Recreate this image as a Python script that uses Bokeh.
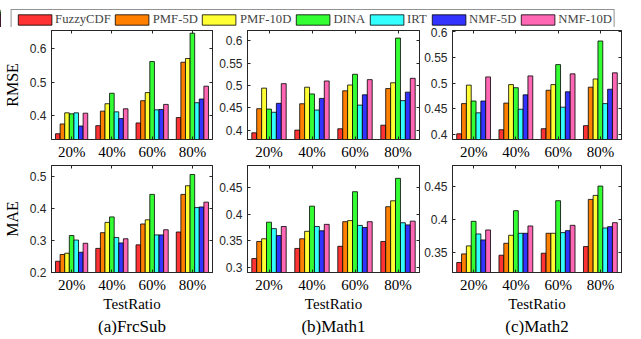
from bokeh.plotting import figure
from bokeh.models import Range1d, FixedTicker, LinearAxis, Legend, LegendItem, Title
from bokeh.layouts import column, row
from bokeh.embed import file_html
from bokeh.resources import INLINE

ratios = ["20%", "40%", "60%", "80%"]
ratio_pos = [1, 2, 3, 4]
models = ["FuzzyCDF", "PMF-5D", "PMF-10D", "DINA", "IRT", "NMF-5D", "NMF-10D"]
colors = ["#ff3333", "#ff8000", "#ffff33", "#33ff33", "#33ffff", "#3333ff", "#ff66b3"]

# each list: one model's values over ratios 20%,40%,60%,80%
rmse_frcsub = [[0.347, 0.371, 0.379, 0.395], [0.376, 0.414, 0.445, 0.559],
               [0.409, 0.436, 0.469, 0.570], [0.406, 0.467, 0.561, 0.645],
               [0.409, 0.412, 0.418, 0.439], [0.370, 0.392, 0.419, 0.450],
               [0.408, 0.421, 0.434, 0.488]]
rmse_math1 = [[0.394, 0.400, 0.403, 0.411], [0.448, 0.459, 0.488, 0.493],
              [0.494, 0.496, 0.501, 0.506], [0.447, 0.481, 0.525, 0.606],
              [0.440, 0.445, 0.456, 0.466], [0.460, 0.471, 0.479, 0.485],
              [0.504, 0.510, 0.513, 0.516]]
rmse_math2 = [[0.401, 0.409, 0.411, 0.417], [0.460, 0.461, 0.486, 0.492],
              [0.496, 0.497, 0.497, 0.508], [0.465, 0.491, 0.536, 0.582],
              [0.442, 0.449, 0.453, 0.460], [0.465, 0.477, 0.483, 0.488],
              [0.512, 0.514, 0.518, 0.520]]
mae_frcsub = [[0.235, 0.275, 0.286, 0.326], [0.256, 0.324, 0.351, 0.443],
              [0.260, 0.356, 0.364, 0.470], [0.315, 0.373, 0.443, 0.505],
              [0.301, 0.309, 0.317, 0.402], [0.263, 0.292, 0.317, 0.404],
              [0.291, 0.305, 0.333, 0.419]]
mae_math1 = [[0.317, 0.336, 0.340, 0.349], [0.349, 0.354, 0.386, 0.414],
             [0.354, 0.368, 0.388, 0.425], [0.385, 0.415, 0.442, 0.467],
             [0.373, 0.377, 0.379, 0.384], [0.360, 0.369, 0.375, 0.380],
             [0.377, 0.381, 0.386, 0.387]]
mae_math2 = [[0.335, 0.346, 0.349, 0.359], [0.348, 0.364, 0.379, 0.430],
             [0.360, 0.376, 0.379, 0.436], [0.397, 0.413, 0.428, 0.450],
             [0.378, 0.379, 0.380, 0.387], [0.369, 0.379, 0.383, 0.389],
             [0.384, 0.390, 0.391, 0.395]]

yticks_rmse_frcsub = [0.4, 0.5, 0.6]
ylabels_rmse_frcsub = ["0.4", "0.5", "0.6"]
yticks_rmse_math = [0.4, 0.45, 0.5, 0.55, 0.6]
ylabels_rmse_math = ["0.4", "0.45", "0.5", "0.55", "0.6"]
yticks_mae_frcsub = [0.2, 0.3, 0.4, 0.5]
ylabels_mae_frcsub = ["0.2", "0.3", "0.4", "0.5"]
yticks_mae_math1 = [0.3, 0.35, 0.4, 0.45]
ylabels_mae_math1 = ["0.3", "0.35", "0.4", "0.45"]
yticks_mae_math2 = [0.35, 0.4, 0.45]
ylabels_mae_math2 = ["0.35", "0.4", "0.45"]

captions = ["(a)FrcSub", "(b)Math1", "(c)Math2"]

SERIF = "Liberation Serif"
SANS = "Liberation Sans"
AX = "#262626"
BW = 0.8 / 7


def blank_axis(ticker):
    ax = LinearAxis(ticker=ticker)
    ax.major_label_text_font_size = "0px"
    ax.major_label_standoff = 0
    ax.major_tick_in = 3
    ax.major_tick_out = 0
    ax.minor_tick_line_color = None
    ax.axis_line_color = AX
    ax.major_tick_line_color = AX
    return ax


def panel(series, yr, yticks, ylabels, width, bl, br, height, bt, bb,
          ylabel=None, xlabel=None, caption=None):
    p = figure(width=width, height=height, output_backend="svg",
               toolbar_location=None, x_range=Range1d(0.5, 4.5),
               y_range=Range1d(*yr), x_axis_type=None, y_axis_type=None,
               min_border_left=bl, min_border_right=br,
               min_border_top=bt, min_border_bottom=bb)
    p.outline_line_color = AX
    p.outline_line_width = 1
    p.xgrid.visible = False
    p.ygrid.visible = False
    for i, vals in enumerate(series):
        xs = [g + (i - 3) * BW for g in ratio_pos]
        p.vbar(x=xs, top=vals, bottom=0, width=BW, fill_color=colors[i],
               line_color="black", line_width=0.8)

    yt = FixedTicker(ticks=yticks)
    xt = FixedTicker(ticks=ratio_pos)

    ly = LinearAxis(ticker=yt)
    ly.major_label_overrides = dict(zip(yticks, ylabels))
    ly.major_label_text_font = SANS
    ly.major_label_text_font_size = "12px"
    ly.major_label_text_color = AX
    ly.major_label_standoff = 5
    ly.major_tick_in = 3
    ly.major_tick_out = 0
    ly.minor_tick_line_color = None
    ly.axis_line_color = AX
    ly.major_tick_line_color = AX
    if ylabel:
        ly.axis_label = ylabel
        ly.axis_label_text_font = SERIF
        ly.axis_label_text_font_size = "16px"
        ly.axis_label_text_font_style = "normal"
        ly.axis_label_text_color = "black"
        ly.axis_label_standoff = 6
    p.add_layout(ly, "left")

    bx = LinearAxis(ticker=xt)
    bx.major_label_overrides = dict(zip(ratio_pos, ratios))
    bx.major_label_text_font = SERIF
    bx.major_label_text_font_size = "15px"
    bx.major_label_text_color = "black"
    bx.major_label_standoff = 4
    bx.major_tick_in = 3
    bx.major_tick_out = 0
    bx.minor_tick_line_color = None
    bx.axis_line_color = AX
    bx.major_tick_line_color = AX
    if xlabel:
        bx.axis_label = xlabel
        bx.axis_label_text_font = SERIF
        bx.axis_label_text_font_size = "15px"
        bx.axis_label_text_font_style = "normal"
        bx.axis_label_text_color = "black"
        bx.axis_label_standoff = 0
    p.add_layout(bx, "below")

    p.add_layout(blank_axis(yt), "right")
    p.add_layout(blank_axis(xt), "above")

    if caption:
        t = Title(text=caption, align="center", text_font=SERIF,
                  text_font_size="17px", text_font_style="normal",
                  text_color="black", standoff=0, offset=0)
        p.add_layout(t, "below")
    return p


# column geometry: (width, border_left, border_right)
cols = [(214, 44, 2), (207, 33, 2), (204, 28, 4)]
H1, BT1, BB1 = 137, 3, 25
H2, BT2, BB2 = 171, 1, 63

top_specs = [
    (rmse_frcsub, (0.33, 0.653), yticks_rmse_frcsub, ylabels_rmse_frcsub, "RMSE"),
    (rmse_math1, (0.379, 0.623), yticks_rmse_math, ylabels_rmse_math, None),
    (rmse_math2, (0.39, 0.6025), yticks_rmse_math, ylabels_rmse_math, None),
]
bot_specs = [
    (mae_frcsub, (0.2, 0.533), yticks_mae_frcsub, ylabels_mae_frcsub, "MAE"),
    (mae_math1, (0.291, 0.491), yticks_mae_math1, ylabels_mae_math1, None),
    (mae_math2, (0.32, 0.481), yticks_mae_math2, ylabels_mae_math2, None),
]

top_row = []
for (s, yr, tk, tl, yl), (w, bl, br) in zip(top_specs, cols):
    top_row.append(panel(s, yr, tk, tl, w, bl, br, H1, BT1, BB1, ylabel=yl))
bot_row = []
for (s, yr, tk, tl, yl), (w, bl, br), cap in zip(bot_specs, cols, captions):
    bot_row.append(panel(s, yr, tk, tl, w, bl, br, H2, BT2, BB2, ylabel=yl,
                         xlabel="TestRatio", caption=cap))

# legend strip: proxy renderers (drawn off-range) carry each model's style
leg = figure(width=625, height=27, output_backend="svg", toolbar_location=None,
             x_range=Range1d(100, 101), y_range=Range1d(0, 1),
             x_axis_type=None, y_axis_type=None, min_border=0)
leg.outline_line_color = None
leg.xgrid.visible = False
leg.ygrid.visible = False
items = []
for name, c, s in zip(models, colors, rmse_frcsub):
    r = leg.vbar(x=ratio_pos, top=s, width=BW, fill_color=c,
                 line_color="black", line_width=0.8)
    items.append(LegendItem(label=name, renderers=[r]))
legend = Legend(items=items, orientation="horizontal", location="top_center",
                glyph_width=42, glyph_height=13, label_standoff=0, spacing=0,
                padding=2, margin=9, label_text_font=SERIF,
                label_text_font_size="12.7px", label_height=13,
                border_line_color=AX, border_line_width=1,
                background_fill_alpha=1)
leg.add_layout(legend, "center")

layout = column(leg, row(*top_row), row(*bot_row))

open("out.html", "w").write(file_html(layout, INLINE))
